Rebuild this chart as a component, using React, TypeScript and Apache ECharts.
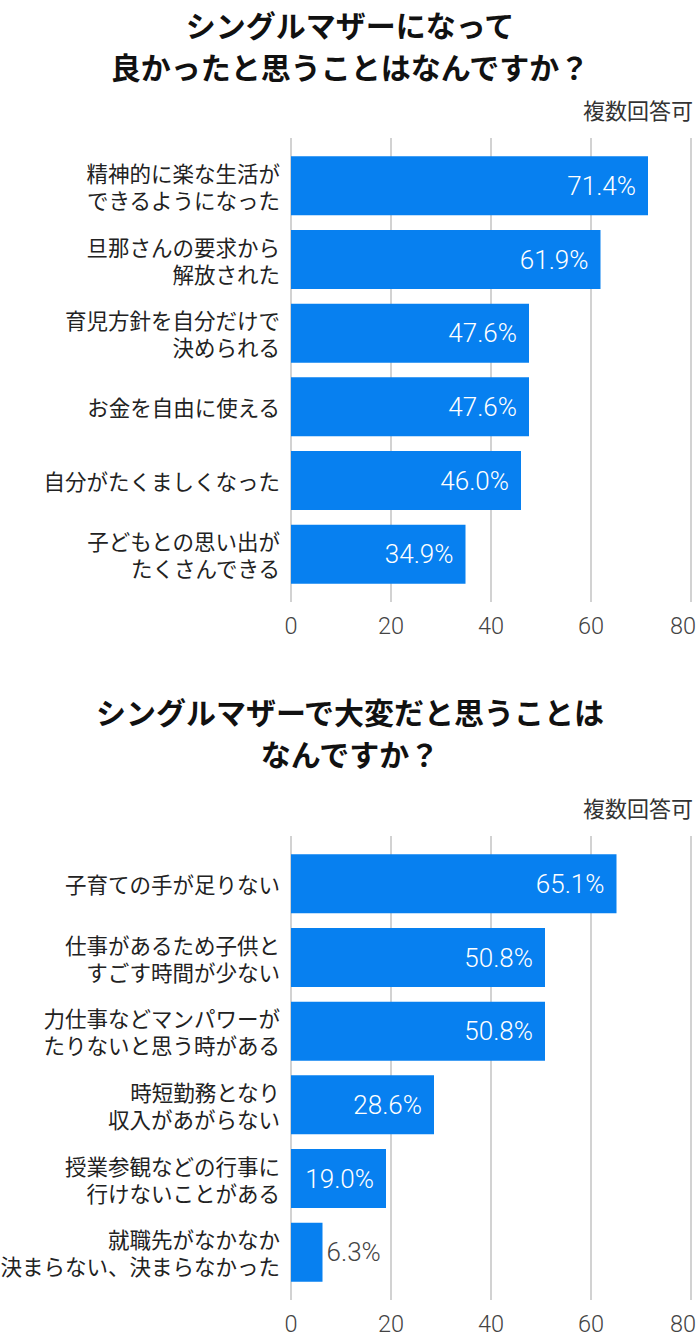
import React, { useEffect, useRef } from "react";
import * as echarts from "echarts";

const title1 = "シングルマザーになって\n良かったと思うことはなんですか？";
const title2 = "シングルマザーで大変だと思うことは\nなんですか？";
const note = "複数回答可";

const categories1 = [
  "精神的に楽な生活が\nできるようになった",
  "旦那さんの要求から\n解放された",
  "育児方針を自分だけで\n決められる",
  "お金を自由に使える",
  "自分がたくましくなった",
  "子どもとの思い出が\nたくさんできる",
];
const values1 = [71.4, 61.9, 47.6, 47.6, 46.0, 34.9];

const categories2 = [
  "子育ての手が足りない",
  "仕事があるため子供と\nすごす時間が少ない",
  "力仕事などマンパワーが\nたりないと思う時がある",
  "時短勤務となり\n収入があがらない",
  "授業参観などの行事に\n行けないことがある",
  "就職先がなかなか\n決まらない、決まらなかった",
];
const values2 = [65.1, 50.8, 50.8, 28.6, 19.0, 6.3];

const axisMin = 0;
const axisMax = 80;
const axisInterval = 20;

const FONT = "'Noto Sans CJK JP', 'Noto Sans', sans-serif";
const NUM_FONT = "Roboto, 'Noto Sans', sans-serif";
const BAR_COLOR = "#0780f0";

export default function App() {
  const ref = useRef<HTMLDivElement>(null);

  useEffect(() => {
    document.body.style.margin = "0";
    if (!ref.current) return;
    const chart = echarts.init(ref.current, null, { renderer: "svg" });

    const offset = 698;
    const blocks = [
      { cats: categories1, vals: values1, y: 0 },
      { cats: categories2, vals: values2, y: offset },
    ];

    const grid: any[] = [];
    const xAxis: any[] = [];
    const yAxis: any[] = [];
    const series: any[] = [];

    blocks.forEach((b, i) => {
      const gA = i * 2;
      const gB = i * 2 + 1;
      grid.push({
        left: 291,
        right: 9,
        top: 138 + b.y,
        height: 464,
        containLabel: false,
        outerBoundsMode: "none",
      });
      grid.push({
        left: 291,
        right: 9,
        top: 149 + b.y,
        height: 442,
        containLabel: false,
        outerBoundsMode: "none",
      });

      xAxis.push({
        type: "value",
        gridIndex: gA,
        min: axisMin,
        max: axisMax,
        interval: axisInterval,
        axisLine: { show: false },
        axisTick: { show: false },
        axisLabel: {
          color: "#444",
          fontSize: 23.5,
          fontWeight: 300,
          fontFamily: NUM_FONT,
          margin: 12,
          formatter: (v: number) => (v === axisMax ? "{m|" + v + "}" : String(v)),
          rich: {
            m: {
              color: "#444",
              fontSize: 23.5,
              fontWeight: 300,
              fontFamily: NUM_FONT,
              padding: [0, 16, 0, 0],
            },
          },
        },
        splitLine: { show: true, lineStyle: { color: "#d2d2d2", width: 2 } },
      });
      xAxis.push({
        type: "value",
        gridIndex: gB,
        min: axisMin,
        max: axisMax,
        show: false,
      });
      yAxis.push({ type: "value", gridIndex: gA, show: false });
      yAxis.push({
        type: "category",
        gridIndex: gB,
        inverse: true,
        data: b.cats,
        axisLine: { show: false },
        axisTick: { show: false },
        axisLabel: {
          color: "#222",
          fontSize: 21.5,
          lineHeight: 27,
          fontFamily: FONT,
          margin: 11,
          align: "right",
        },
      });

      series.push({
        type: "bar",
        xAxisIndex: gB,
        yAxisIndex: gB,
        barCategoryGap: "20%",
        itemStyle: { color: BAR_COLOR },
        label: {
          show: true,
          position: "insideRight",
          distance: 12,
          color: "#fff",
          fontSize: 26,
          fontWeight: 300,
          fontFamily: NUM_FONT,
          formatter: (p: any) => Number(p.value).toFixed(1) + "%",
        },
        data: b.vals.map((v) =>
          v < 10
            ? { value: v, label: { position: "right", distance: 4, color: "#444" } }
            : v
        ),
      });
    });

    const titleStyle = {
      fontSize: 30,
      lineHeight: 42,
      fontWeight: "bold",
      color: "#111",
      fontFamily: FONT,
    };

    chart.setOption({
      animation: false,
      title: [
        { text: title1, left: "center", top: -2, textStyle: titleStyle },
        { text: title2, left: "center", top: offset - 13, textStyle: titleStyle },
      ],
      graphic: [
        {
          type: "text",
          right: 7,
          top: 98,
          style: { text: note, fontSize: 22, fill: "#333", fontFamily: FONT },
        },
        {
          type: "text",
          right: 7,
          top: 98 + offset,
          style: { text: note, fontSize: 22, fill: "#333", fontFamily: FONT },
        },
      ],
      grid,
      xAxis,
      yAxis,
      series,
    });

    return () => chart.dispose();
  }, []);

  return <div ref={ref} style={{ width: 700, height: 1340 }} />;
}
